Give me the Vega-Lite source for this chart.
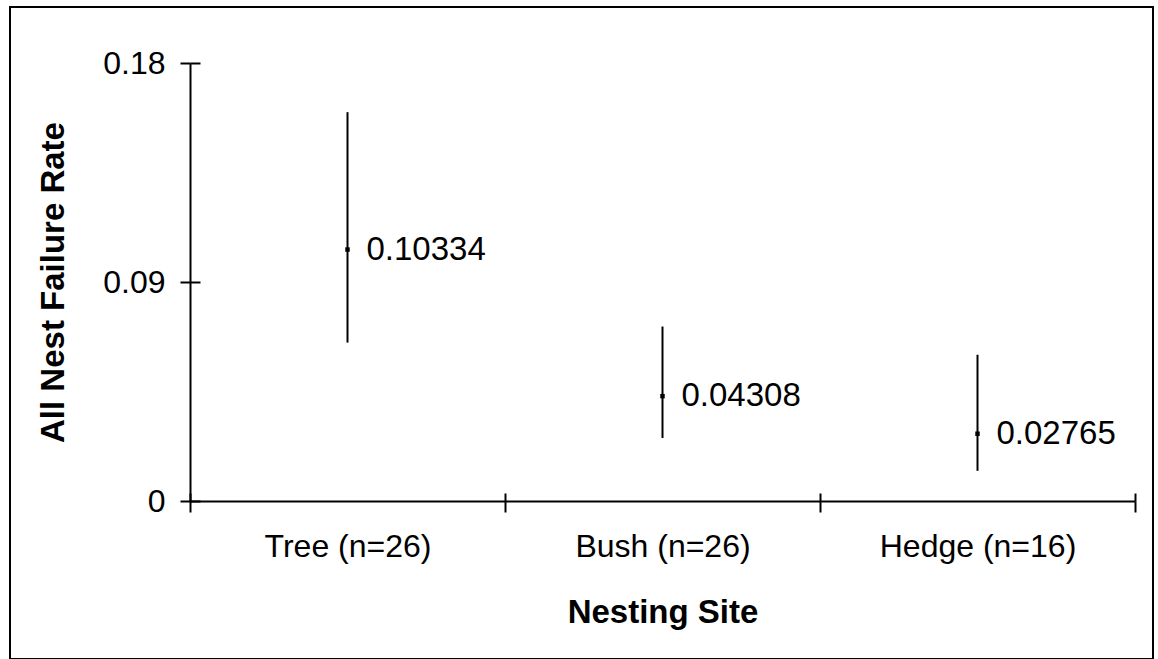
{
  "$schema": "https://vega.github.io/schema/vega-lite/v6.json",
  "width": 1143,
  "height": 652,
  "autosize": "none",
  "padding": {"left": 10, "top": 7, "right": 5, "bottom": 0},
  "background": "white",
  "config": {
    "font": "Liberation Sans",
    "view": {"stroke": "black", "strokeWidth": 2},
    "axis": {
      "grid": false,
      "domainColor": "black",
      "domainWidth": 2,
      "tickColor": "black",
      "tickWidth": 2,
      "labelColor": "black",
      "labelFont": "Liberation Sans",
      "labelFontSize": 32,
      "labelLimit": 0,
      "titleFont": "Liberation Sans",
      "titleFontSize": 33,
      "titleFontWeight": "bold",
      "titleColor": "black"
    }
  },
  "data": {
    "values": [
      {"site": "Tree (n=26)", "rate": 0.10334, "lo": 0.0651, "hi": 0.1598},
      {"site": "Bush (n=26)", "rate": 0.04308, "lo": 0.0259, "hi": 0.0717},
      {"site": "Hedge (n=16)", "rate": 0.02765, "lo": 0.0124, "hi": 0.0601}
    ]
  },
  "layer": [
    {
      "mark": {"type": "rule", "strokeWidth": 2, "color": "black"},
      "encoding": {
        "x": {
          "field": "site", "type": "nominal", "sort": null,
          "scale": {"type": "band", "range": [180, 1125], "paddingInner": 0, "paddingOuter": 0},
          "axis": {"orient": "bottom", "offset": -158, "tickBand": "extent", "tickSize": 11, "labelAngle": 0, "labelPadding": 19, "title": "Nesting Site", "titlePadding": 34}
        },
        "y": {
          "field": "lo", "type": "quantitative",
          "scale": {"domain": [0, 0.18], "range": [494, 56], "nice": false},
          "axis": {"orient": "left", "offset": -180, "values": [0, 0.09, 0.18], "format": "~g", "tickSize": 10, "labelPadding": 15, "title": "All Nest Failure Rate", "titlePadding": 32}
        },
        "y2": {"field": "hi"}
      }
    },
    {
      "mark": {"type": "point", "shape": "square", "filled": true, "size": 20, "color": "black", "opacity": 1},
      "encoding": {
        "x": {
          "field": "site", "type": "nominal", "sort": null,
          "axis": {"orient": "top", "offset": -494, "tickBand": "extent", "tickSize": 8, "labels": false, "domain": false, "title": null}
        },
        "y": {
          "field": "rate", "type": "quantitative",
          "axis": {"orient": "right", "offset": -963, "values": [0, 0.09, 0.18], "tickSize": 10, "labels": false, "domain": false, "title": null}
        }
      }
    },
    {
      "mark": {"type": "text", "align": "left", "baseline": "middle", "dx": 19, "fontSize": 33, "color": "black", "font": "Liberation Sans"},
      "encoding": {
        "x": {"field": "site", "type": "nominal", "sort": null, "axis": null},
        "y": {"field": "rate", "type": "quantitative", "axis": null},
        "text": {"field": "rate", "type": "quantitative", "format": ".5f"}
      }
    }
  ],
  "resolve": {"axis": {"x": "independent", "y": "independent"}}
}
